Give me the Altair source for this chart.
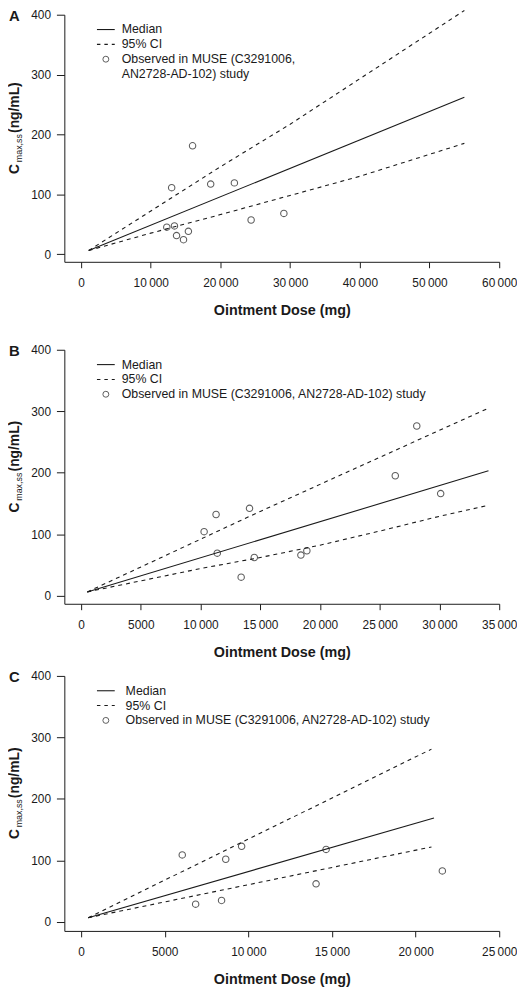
import altair as alt
import pandas as pd

FONT = "Liberation Sans"
INK = "#1a1a1a"

# ---------------- Panel A ----------------
a_obs_dose = [16000, 13000, 18600, 22000, 24400, 29100, 12300, 13400, 13700, 15400, 14700]
a_obs_cmax = [181, 111, 117, 119, 57, 68, 45, 47, 31, 38, 24]
a_med_dose = [1100, 55000]
a_med_cmax = [6, 262]
a_up_dose = [1100, 20000, 30000, 55000]
a_up_cmax = [6, 146, 217, 407]
a_lo_dose = [1100, 10000, 20000, 30000, 40000, 55000]
a_lo_cmax = [6, 35, 66, 98, 130, 185]
a_xticks = [0, 10000, 20000, 30000, 40000, 50000, 60000]

# ---------------- Panel B ----------------
b_obs_dose = [28100, 26300, 30100, 14100, 11300, 10300, 11400, 14500, 13400, 18400, 18900]
b_obs_cmax = [276, 195, 166, 142, 132, 104, 69, 62, 30, 66, 73]
b_med_dose = [520, 34100]
b_med_cmax = [6, 203]
b_up_dose = [520, 15000, 25000, 34100]
b_up_cmax = [6, 137, 225, 305]
b_lo_dose = [520, 10000, 15000, 20000, 25000, 30000, 34100]
b_lo_cmax = [6, 44, 62, 82, 105, 129, 147]
b_xticks = [0, 5000, 10000, 15000, 20000, 25000, 30000, 35000]

# ---------------- Panel C ----------------
c_obs_dose = [6050, 6850, 8400, 8650, 9600, 14650, 14050, 21600]
c_obs_cmax = [109, 29, 35, 102, 123, 118, 62, 83]
c_med_dose = [430, 21100]
c_med_cmax = [7, 169]
c_up_dose = [430, 20950]
c_up_cmax = [7, 281]
c_lo_dose = [430, 20950]
c_lo_cmax = [7, 122]
c_xticks = [0, 5000, 10000, 15000, 20000, 25000]

y_ticks = [0, 100, 200, 300, 400]
legend_median = "Median"
legend_ci = "95% CI"
obs_two_lines = ["Observed in MUSE (C3291006,", "AN2728-AD-102) study"]
obs_one_line = ["Observed in MUSE (C3291006, AN2728-AD-102) study"]

LABEL_EXPR = "datum.value >= 10000 ? floor(datum.value/1000) + '\u2009000' : '' + datum.value"


def one(**kw):
    return alt.Chart(pd.DataFrame({k: [v] for k, v in kw.items()}))


def panel(letter, obs_d, obs_c, med_d, med_c, up_d, up_c, lo_d, lo_c,
          xdom, xticks, ymin, height, obs_lines, text_x):
    xs = alt.Scale(domain=xdom, nice=False, zero=False)
    ys = alt.Scale(domain=[ymin, 400], nice=False, zero=False)
    xenc = alt.X("dose:Q", scale=xs, axis=alt.Axis(
        values=xticks, labelExpr=LABEL_EXPR, title="Ointment Dose (mg)",
        grid=False, tickSize=6, labelPadding=10, labelFontSize=12, labelFont=FONT,
        labelColor=INK, domainColor=INK, tickColor=INK, labelFlush=False,
        titleFont=FONT, titleFontSize=14.5, titleFontWeight="bold", titleColor=INK,
        titlePadding=15))
    yenc = alt.Y("cmax:Q", scale=ys, axis=alt.Axis(
        values=y_ticks, title=None, grid=False, tickSize=8, labelPadding=6,
        labelFontSize=12, labelFont=FONT, labelColor=INK, domainColor=INK,
        tickColor=INK, labelFlush=False))

    med = alt.Chart(pd.DataFrame({"dose": med_d, "cmax": med_c})).mark_line(
        color=INK, strokeWidth=1.1, clip=False).encode(x=xenc, y=yenc)
    ci_df = pd.concat([
        pd.DataFrame({"dose": up_d, "cmax": up_c, "bound": "upper"}),
        pd.DataFrame({"dose": lo_d, "cmax": lo_c, "bound": "lower"}),
    ])
    ci = alt.Chart(ci_df).mark_line(
        color=INK, strokeWidth=1.1, strokeDash=[4, 4], clip=False).encode(
        x=xenc, y=yenc, detail="bound:N")
    pts = alt.Chart(pd.DataFrame({"dose": obs_d, "cmax": obs_c})).mark_point(
        shape="circle", filled=False, size=42, color=INK, strokeWidth=1.1,
        clip=False).encode(x=xenc, y=yenc)

    layers = [med, ci, pts]
    # legend
    layers.append(one(k=0).mark_rule(color=INK, strokeWidth=1.1).encode(
        x=alt.value(33), x2=alt.value(51), y=alt.value(15)))
    layers.append(one(k=0).mark_rule(color=INK, strokeWidth=1.1, strokeDash=[3.5, 4]).encode(
        x=alt.value(33), x2=alt.value(51), y=alt.value(30)))
    layers.append(one(k=0).mark_point(shape="circle", filled=False, size=36,
                                     color=INK, strokeWidth=1).encode(
        x=alt.value(42), y=alt.value(45)))
    texts = [legend_median, legend_ci] + obs_lines
    for i, t in enumerate(texts):
        layers.append(one(t=t).mark_text(
            align="left", baseline="middle", font=FONT, fontSize=12.5, color=INK).encode(
            x=alt.value(text_x), y=alt.value(15 + 15 * i), text="t:N"))
    # y title with subscript
    mid = height / 2
    layers.append(one(t="C").mark_text(
        angle=270, align="center", baseline="middle", font=FONT, fontSize=14,
        fontWeight="bold", color=INK).encode(
        x=alt.value(-50), y=alt.value(mid + 31), text="t:N"))
    layers.append(one(t="max,ss").mark_text(
        angle=270, align="center", baseline="middle", font=FONT, fontSize=9,
        color=INK).encode(
        x=alt.value(-45.5), y=alt.value(mid + 10), text="t:N"))
    layers.append(one(t="(ng/mL)").mark_text(
        angle=270, align="center", baseline="middle", font=FONT, fontSize=14,
        fontWeight="bold", color=INK).encode(
        x=alt.value(-50), y=alt.value(mid - 31), text="t:N"))
    # panel letter
    layers.append(one(t=letter).mark_text(
        align="left", baseline="middle", font=FONT, fontSize=15,
        fontWeight="bold", color=INK).encode(
        x=alt.value(-56), y=alt.value(1), text="t:N"))

    return alt.layer(*layers).properties(width=440, height=height)


pA = panel("A", a_obs_dose, a_obs_cmax, a_med_dose, a_med_cmax, a_up_dose, a_up_cmax,
           a_lo_dose, a_lo_cmax, [-2400, 60000], a_xticks, -12.9, 250, obs_two_lines, 58)
pB = panel("B", b_obs_dose, b_obs_cmax, b_med_dose, b_med_cmax, b_up_dose, b_up_cmax,
           b_lo_dose, b_lo_cmax, [-1400, 35000], b_xticks, -13.3, 257, obs_one_line, 58)
pC = panel("C", c_obs_dose, c_obs_cmax, c_med_dose, c_med_cmax, c_up_dose, c_up_cmax,
           c_lo_dose, c_lo_cmax, [-1000, 25000], c_xticks, -14.5, 258, obs_one_line, 62)

chart = alt.vconcat(alt.vconcat(pA, pB, spacing=27), pC, spacing=11).properties(
    padding={"left": 0, "top": -6, "right": 0, "bottom": 0}
).configure_view(stroke=None)

chart.save("out.html", embed_options={"renderer": "svg", "actions": False})
